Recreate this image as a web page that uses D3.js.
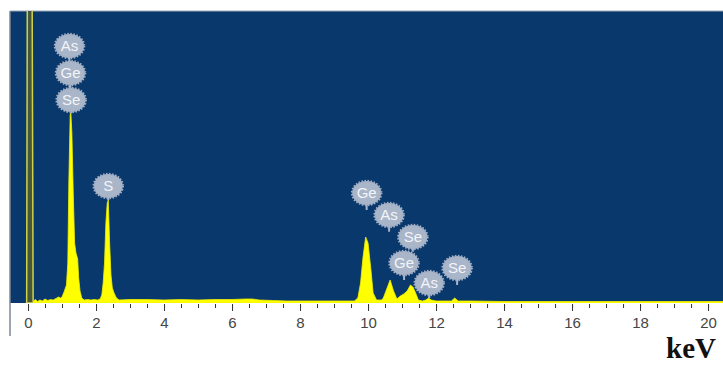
<!DOCTYPE html>
<html>
<head>
<meta charset="utf-8">
<script src="https://cdn.jsdelivr.net/npm/d3@7"></script>
<style>
  body { margin: 0; background: #fff; }
  svg { display: block; }
  .axis path { display: none; }
  .axis line { stroke: #333; }
  .axis text { font-family: 'Liberation Sans', Arial, sans-serif; font-size: 15px; fill: #454545; }
</style>
</head>
<body>
<div id="root"></div>
<script>
// spectrum (keV, counts)
const energy = [0.16, 0.22, 0.28, 0.35, 0.42, 0.5, 0.58, 0.66, 0.74, 0.82, 0.9, 0.96,
  1.00, 1.07, 1.13, 1.17, 1.20, 1.24, 1.26, 1.29, 1.33, 1.37, 1.41, 1.46, 1.49, 1.53, 1.58, 1.65,
  1.75, 1.85, 1.95, 2.05, 2.12, 2.17, 2.21, 2.25, 2.29, 2.33, 2.36, 2.40, 2.44, 2.48, 2.53, 2.60, 2.68,
  3.0, 3.5, 4.0, 4.5, 5.0, 5.5, 6.0, 6.4, 6.6, 6.8, 7.2, 7.6, 8.0, 8.5, 9.0, 9.5,
  9.60, 9.70, 9.78, 9.85, 9.93, 10.00, 10.08, 10.15, 10.25, 10.40,
  10.45, 10.55, 10.65, 10.75, 10.85, 10.95, 11.05, 11.15, 11.25, 11.32, 11.40, 11.48, 11.60,
  11.70, 11.78, 11.86, 12.00, 12.45, 12.55, 12.65, 13.0, 14.0, 16.0, 18.0, 20.44];
const counts = [20, 35, 15, 30, 20, 40, 25, 35, 30, 45, 60, 50,
  60, 120, 180, 400, 1200, 1880, 1900, 1700, 1100, 600, 500, 440, 250, 120, 50, 30,
  35, 30, 35, 30, 40, 80, 200, 400, 800, 1000, 1030, 600, 280, 150, 100, 50, 30,
  35, 35, 30, 35, 30, 35, 35, 40, 40, 30, 25, 20, 20, 20, 20, 20,
  20, 50, 200, 450, 660, 600, 350, 100, 30, 30,
  50, 140, 230, 120, 40, 70, 90, 120, 180, 160, 100, 30, 20,
  30, 50, 30, 20, 20, 50, 20, 20, 15, 15, 15, 15];

// zero-energy strobe peak
const strobeEnergy = [-0.04, -0.02, 0.12, 0.15];
const strobeCounts = [0, 3200, 3200, 0];

// element labels: name, keV of the marker, count level of the label
const labelNames = ['As', 'Ge', 'Se', 'S', 'Ge', 'As', 'Se', 'Ge', 'As', 'Se'];
const labelEnergy = [1.22, 1.25, 1.27, 2.36, 9.96, 10.62, 11.32, 11.06, 11.8, 12.62];
const labelLevel = [2570, 2300, 2030, 1170, 1100, 880, 660, 400, 200, 350];
const labelPeak = [2030, 2030, 1900, 1030, 930, 713, 513, 230, 50, 180];

const xTicks = d3.range(0, 21, 2);
const xMinorTicks = d3.range(0, 20.6, 0.5);

const app = (function(d3) {

  const margin = { top: 11, right: 0, bottom: 62, left: 10 };
  const width = 723 - margin.left - margin.right;
  const height = 365 - margin.top - margin.bottom;

  const svg = d3.select('#root')
    .append('svg')
      .attr('width', 723)
      .attr('height', 365)
    .append('g')
      .attr('transform', `translate(${margin.left}, ${margin.top})`);

  const xScale = d3.scaleLinear()
    .domain([-0.53, 20.44])
    .range([0, width]);

  const yScale = d3.scaleLinear()
    .domain([0, 2920])
    .range([height, 0]);

  svg.append('defs').append('clipPath')
      .attr('id', 'plot-clip')
    .append('rect')
      .attr('width', width)
      .attr('height', height);

  svg.append('rect')
    .attr('width', width)
    .attr('height', height)
    .attr('fill', '#08386c');

  // light frame line on top, grey line on the left going down past the axis
  svg.append('line')
    .attr('x1', 0).attr('x2', width)
    .attr('y1', 0).attr('y2', 0)
    .attr('stroke', '#9aa6b4');
  svg.append('line')
    .attr('x1', 0).attr('x2', 0)
    .attr('y1', 0).attr('y2', height + 33)
    .attr('stroke', '#7d8894')
    .attr('stroke-width', 1.5);

  const plot = svg.append('g').attr('clip-path', 'url(#plot-clip)');

  const area = d3.area()
    .x((d) => xScale(d[0]))
    .y0(yScale(0))
    .y1((d) => yScale(d[1]));

  const strobe = d3.zip(strobeEnergy, strobeCounts);
  plot.append('path')
    .datum(strobe)
    .attr('d', area)
    .attr('fill', '#465838')
    .attr('stroke', '#cfd24a')
    .attr('stroke-width', 1.5);

  const spectrum = d3.zip(energy, counts);
  plot.append('path')
    .datum(spectrum)
    .attr('d', area)
    .attr('fill', '#ffff00')
    .attr('stroke', '#f0f000')
    .attr('stroke-width', 0.8);

  // labels
  const labels = labelNames.map((name, i) => ({
    name: name,
    e: labelEnergy[i],
    level: labelLevel[i],
    peak: labelPeak[i]
  }));

  const lab = plot.selectAll('.label')
    .data(labels)
    .enter().append('g')
      .attr('class', 'label')
      .attr('transform', (d) => `translate(${xScale(d.e)}, ${yScale(d.level)})`);

  lab.append('line')
    .attr('x1', 0).attr('x2', 0)
    .attr('y1', 0)
    .attr('y2', (d) => yScale(d.peak) - yScale(d.level))
    .attr('stroke', '#a9b5c9')
    .attr('stroke-width', 2);

  lab.append('ellipse')
    .attr('rx', 14.5)
    .attr('ry', 12)
    .attr('fill', '#a9b5c9')
    .attr('stroke', '#a2aec3')
    .attr('stroke-width', 2.5)
    .attr('stroke-dasharray', '1.5,1.5');

  lab.append('text')
    .attr('text-anchor', 'middle')
    .attr('dy', '0.36em')
    .attr('font-family', "'Liberation Sans', Arial, sans-serif")
    .attr('font-size', 15)
    .attr('fill', '#f2f4f8')
    .text((d) => d.name);

  const minorAxis = d3.axisBottom(xScale)
    .tickValues(xMinorTicks)
    .tickSize(4)
    .tickFormat('');

  const xAxis = d3.axisBottom(xScale)
    .tickValues(xTicks)
    .tickSize(7)
    .tickPadding(6);

  svg.append('g')
    .attr('class', 'axis')
    .attr('transform', `translate(0, ${height + 1})`)
    .call(minorAxis);

  svg.append('g')
    .attr('class', 'axis')
    .attr('transform', `translate(0, ${height + 1})`)
    .call(xAxis);

  svg.append('text')
    .attr('x', 656)
    .attr('y', height + 55)
    .attr('font-family', "'Liberation Serif', 'Times New Roman', serif")
    .attr('font-weight', 'bold')
    .attr('font-size', 29)
    .attr('fill', '#111')
    .text('keV');

})(d3);
</script>
</body>
</html>
